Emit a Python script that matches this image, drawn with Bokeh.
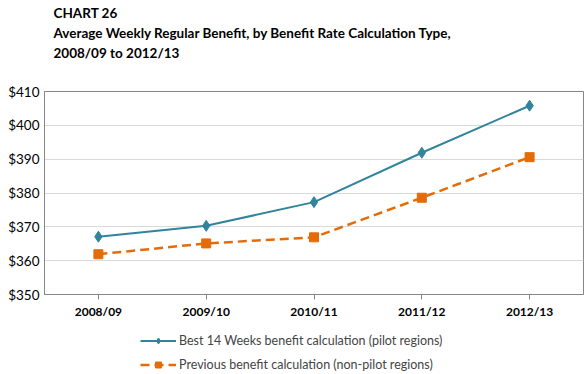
from bokeh.plotting import figure
from bokeh.layouts import column
from bokeh.models import Legend, LegendItem, NumeralTickFormatter, FixedTicker, Range1d, Label
from bokeh.embed import file_html
from bokeh.resources import INLINE

years = ["2008/09", "2009/10", "2010/11", "2011/12", "2012/13"]
best14 = [367.1, 370.3, 377.3, 391.9, 405.8]
previous = [361.9, 365.1, 366.9, 378.6, 390.6]
y_ticks = [350, 360, 370, 380, 390, 400, 410]

title_lines = ["CHART 26",
               "Average Weekly Regular Benefit, by Benefit Rate Calculation Type,",
               "2008/09 to 2012/13"]
series_names = ["Best 14 Weeks benefit calculation (pilot regions)",
                "Previous benefit calculation (non-pilot regions)"]

FONT = "Lato"
BLUE = "#31849B"
ORANGE = "#E36C09"
GRAY = "#868686"
W = 587


def add_series(fig):
    l1 = fig.line(years, best14, line_color=BLUE, line_width=2)
    m1 = fig.scatter(years, best14, marker="diamond", size=11, fill_color=BLUE, line_color=BLUE)
    l2 = fig.line(years, previous, line_color=ORANGE, line_width=2.5, line_dash="9 5")
    m2 = fig.scatter(years, previous, marker="square", size=9, fill_color=ORANGE, line_color=ORANGE)
    return l1, m1, l2, m2


def strip(height):
    f = figure(width=W, height=height, x_range=years, y_range=Range1d(0, 1),
               output_backend="svg", toolbar_location=None,
               x_axis_location=None, y_axis_location=None,
               min_border_left=0, min_border_right=0, min_border_top=0, min_border_bottom=0)
    f.outline_line_color = None
    f.grid.visible = False
    f.background_fill_color = "white"
    f.border_fill_color = "white"
    return f


# title strip
t = strip(68)
for text, y in zip(title_lines, [56, 36, 16]):
    t.add_layout(Label(x=9, y=y, x_units="screen", y_units="screen", text=text,
                       text_font=FONT, text_font_size="13.5px", text_font_style="bold",
                       text_baseline="middle", text_color="#000000"))

# main chart
p = figure(width=W, height=253, x_range=years, y_range=Range1d(350, 410),
           output_backend="svg", toolbar_location=None,
           min_border_left=44, min_border_right=4, min_border_top=23, min_border_bottom=26)
p.title.visible = False
p.outline_line_color = GRAY
p.background_fill_color = "white"
p.border_fill_color = "white"

p.xgrid.grid_line_color = None
p.ygrid.grid_line_color = "#D9D9D9"
p.yaxis.ticker = FixedTicker(ticks=y_ticks)
p.yaxis.formatter = NumeralTickFormatter(format="$0")
p.yaxis.major_tick_line_color = None
p.yaxis.minor_tick_line_color = None
p.yaxis.major_tick_out = 0
p.yaxis.major_tick_in = 0
p.yaxis.minor_tick_out = 0
p.yaxis.axis_line_color = GRAY
p.yaxis.major_label_text_font = FONT
p.yaxis.major_label_text_font_size = "13.5px"
p.yaxis.major_label_text_color = "#000000"
p.yaxis.major_label_standoff = 5

p.xaxis.axis_line_color = GRAY
p.xaxis.major_tick_line_color = GRAY
p.xaxis.major_tick_out = 5
p.xaxis.major_tick_in = 0
p.xaxis.major_label_text_font = FONT
p.xaxis.major_label_text_font_size = "12px"
p.xaxis.major_label_text_font_style = "bold"
p.xaxis.major_label_text_color = "#000000"
p.xaxis.major_label_standoff = 4

add_series(p)

# legend strip (series drawn off-range, only the legend shows)
q = strip(53)
ql1, qm1, ql2, qm2 = add_series(q)
legend = Legend(items=[LegendItem(label=series_names[0], renderers=[ql1, qm1]),
                       LegendItem(label=series_names[1], renderers=[ql2, qm2])],
                location=(96, 2), orientation="vertical",
                label_text_font=FONT, label_text_font_size="12.5px",
                glyph_width=36, glyph_height=15, label_height=15,
                label_standoff=3, spacing=9, padding=0, margin=0,
                border_line_color=None, background_fill_alpha=0)
q.add_layout(legend, "center")

layout = column(t, p, q, spacing=0)
open("out.html", "w").write(file_html(layout, INLINE))
